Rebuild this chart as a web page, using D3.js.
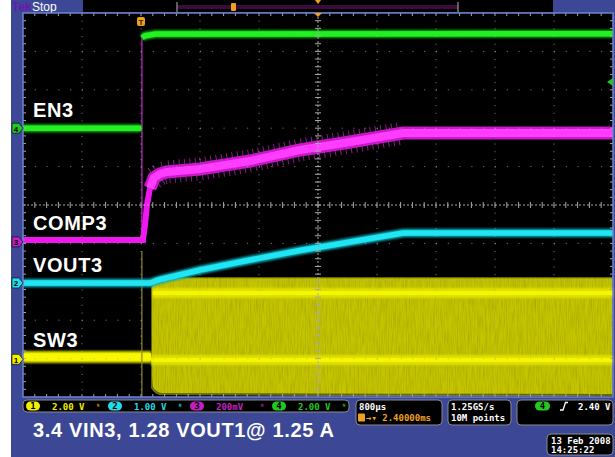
<!DOCTYPE html>
<html lang="en">
<head>
<meta charset="utf-8">
<title>EN3 / COMP3 / VOUT3 / SW3 start-up</title>
<script src="https://d3js.org/d3.v7.min.js"></script>
<style>
  body { margin:0; background:#fff; }
  svg { display:block; }
  .lbl { font-family:"Liberation Sans", Arial, sans-serif; font-weight:bold; fill:#fff; }
  .ro { font-family:"DejaVu Sans Mono", monospace; font-weight:bold; font-size:9px; }
</style>
</head>
<body>
<div id="scope"></div>
<script>
// time in ms from trigger, level in screen divisions from centre
var timeRange = [-1.6, 6.4];
var divRange = [-5, 5];

var en3Low = [[-1.6,2.0],[0.005,2.0]];
var en3High = [[0.015,4.36],[0.06,4.41],[0.2,4.45],[6.4,4.46]];
var comp3 = [[-1.6,-0.911],[0.027,-0.911],[0.054,-0.521],[0.081,0.0],[0.122,0.443],[0.176,0.703],
             [0.258,0.807],[0.353,0.859],[0.8,0.938],[1.478,1.146],[2.156,1.432],[2.834,1.641],
             [3.553,1.875],[6.4,1.875]];
var vout3 = [[-1.6,-2.031],[0.122,-2.031],[0.258,-1.94],[0.8,-1.693],[1.478,-1.432],[2.156,-1.185],
             [2.834,-0.964],[3.553,-0.729],[6.4,-0.729]];
var sw3Idle = [[-1.6,-3.958],[0.136,-3.958]];
var sw3Time = [0.136, 0.15, 0.19, 0.27, 6.4];
var sw3Top = [-2.135, -1.979, -1.927, -1.88, -1.88];
var sw3Bottom = [-4.427, -4.74, -4.844, -4.922, -4.948];
var sw3Bands = [[0.16,-2.29],[0.136,-4.036]];
var edgeGlitch = [[[0.012,-0.911],[0.012,4.4]], [[0.012,-5],[0.012,-1.2]]];

var channels = ["1","2","3","4"];
var chColors = ["#f0f000","#22dcea","#c020c0","#22c822"];
var chScales = ["2.00 V","1.00 V","200mV","2.00 V"];
var chGround = [-4.02,-2.03,-0.96,2.0];
var traceNames = ["SW3","VOUT3","COMP3","EN3"];
var nameLevels = [-3.7,-1.74,-0.65,2.3];
var trigLevel = 2.0 + 2.40/2.00;

var W = 590, H = 384, padLeft = 23, padTop = 13;

var svg = d3.select("#scope").append("svg").attr("width",615).attr("height",457);
var defs = svg.append("defs");
var grain = defs.append("filter").attr("id","grain").attr("x",0).attr("y",0).attr("width",1).attr("height",1);
grain.append("feTurbulence").attr("type","fractalNoise").attr("baseFrequency","1.1 0.06").attr("numOctaves",2).attr("seed",4).attr("result","n");
grain.append("feColorMatrix").attr("in","n").attr("type","matrix")
  .attr("values","0.5 0 0 0 0.68  0.5 0 0 0 0.68  0.5 0 0 0 0.68  0 0 0 0 1").attr("result","g");
grain.append("feBlend").attr("in","SourceGraphic").attr("in2","g").attr("mode","multiply").attr("result","m");
grain.append("feComposite").attr("in","m").attr("in2","SourceGraphic").attr("operator","in");
defs.append("filter").attr("id","soft").attr("filterUnits","userSpaceOnUse")
  .attr("x",-50).attr("y",-50).attr("width",700).attr("height",560)
  .append("feGaussianBlur").attr("stdDeviation",1.3);

svg.append("rect").attr("x",11).attr("y",0).attr("width",604).attr("height",457).attr("fill","#3c4896");
svg.append("rect").attr("x",83).attr("y",0).attr("width",470).attr("height",12).attr("fill","#000");

// record view
svg.append("rect").attr("x",177).attr("y",5).attr("width",281).attr("height",4).attr("fill","#3a0c3e");
[177,458].forEach(function(bx){
  svg.append("line").attr("x1",bx).attr("x2",bx).attr("y1",2).attr("y2",12).attr("stroke","#9a9a9a").attr("stroke-width",1.2);
});
svg.append("rect").attr("x",231).attr("y",3).attr("width",5).attr("height",8).attr("rx",1).attr("fill","#f0a020");
svg.append("path").attr("d","M315,0 L321,0 L318,4 Z").attr("fill","#f0a020");
svg.append("text").attr("x",12).attr("y",11).attr("class","lbl").style("font-size","12px").style("fill","#6a18b0").text("Tek");
svg.append("text").attr("x",32).attr("y",11).attr("class","lbl").style("font-size","12px").style("font-weight","normal").text("Stop");

var g = svg.append("g").attr("transform","translate(" + padLeft + "," + padTop + ")");
g.append("rect").attr("width",W).attr("height",H).attr("fill","#000");

var x = d3.scaleLinear().domain(timeRange).range([0, W]);
var y = d3.scaleLinear().domain(divRange).range([H, 0]);
var gx = d3.scaleLinear().domain([0,10]).range([0, W]);
var gy = d3.scaleLinear().domain([0,10]).range([0, H]);
var line = d3.line().x(function(d){ return x(d[0]); }).y(function(d){ return y(d[1]); });

function trace(data, glow, core, wGlow, wCore){
  g.append("path").datum(data).attr("d",line).attr("stroke",glow).attr("stroke-width",wGlow).attr("fill","none").attr("filter","url(#soft)");
  g.append("path").datum(data).attr("d",line).attr("stroke",core).attr("stroke-width",wCore).attr("fill","none");
}

// SW3 switching envelope
var env = sw3Time.map(function(t,i){ return [t, sw3Top[i], sw3Bottom[i]]; });
var area = d3.area().x(function(d){ return x(d[0]); }).y0(function(d){ return y(d[2]); }).y1(function(d){ return y(d[1]); })
  .curve(d3.curveMonotoneX);
g.append("path").datum(env).attr("d",area).attr("fill","#c4c400").attr("stroke","#6a6a00").attr("stroke-width",2).attr("filter","url(#grain)");
sw3Bands.forEach(function(b){
  trace([[b[0],b[1]],[timeRange[1],b[1]]], "#e0e000", "#f6f600", 10, 4);
});
trace(sw3Idle, "#d8d800", "#f8f800", 12, 7.5);

g.append("path").datum(edgeGlitch[1]).attr("d",line).attr("stroke","#8c8c20").attr("stroke-width",1.2).attr("fill","none");
g.append("path").datum(edgeGlitch[0]).attr("d",line).attr("stroke","#a020a8").attr("stroke-width",1.5).attr("fill","none");

// EN3
trace(en3Low, "#10b010", "#22f022", 8, 5.5);
trace(en3High, "#10b010", "#22f022", 8, 5.5);

// COMP3
var compBand = comp3.filter(function(d){ return d[0] >= 0.12; });
var compRamp = comp3.filter(function(d){ return d[0] >= 0.17 && d[0] <= 3.6; });
g.append("path").datum(comp3).attr("d",line).attr("stroke","#f018f0").attr("stroke-width",6).attr("fill","none");
g.append("path").datum(compRamp).attr("d",line).attr("stroke","#d020d0").attr("stroke-width",23)
  .attr("stroke-dasharray","1 4.4").attr("fill","none").attr("opacity",0.7);
g.append("path").datum(compBand).attr("d",line).attr("stroke","#c818c8").attr("stroke-width",13).attr("fill","none");
g.append("path").datum(compBand).attr("d",line).attr("stroke","#ff3cff").attr("stroke-width",8).attr("fill","none");

// VOUT3
trace(vout3, "#10a8b8", "#1ee6f2", 8.5, 5.5);

// graticule
var grid = g.append("g").attr("stroke","#a8a8a8").attr("fill","none");
d3.range(1,10).forEach(function(i){
  if (i === 5) return;
  grid.append("line").attr("x1",gx(i)).attr("x2",gx(i)).attr("y1",0).attr("y2",H).attr("stroke-dasharray","1 " + (gy(0.2)-1)).attr("opacity",0.8);
  grid.append("line").attr("y1",gy(i)).attr("y2",gy(i)).attr("x1",0).attr("x2",W).attr("stroke-dasharray","1 " + (gx(0.2)-1)).attr("opacity",0.8);
});
grid.append("line").attr("x1",0).attr("x2",W).attr("y1",H/2).attr("y2",H/2).attr("stroke-dasharray","2 2");
grid.append("line").attr("y1",0).attr("y2",H).attr("x1",W/2).attr("x2",W/2).attr("stroke-dasharray","2 2");
d3.range(1,50).forEach(function(k){
  var xx = gx(k/5);
  grid.append("line").attr("x1",xx).attr("x2",xx).attr("y1",H/2-3).attr("y2",H/2+3);
  grid.append("line").attr("x1",xx).attr("x2",xx).attr("y1",0).attr("y2",3);
  grid.append("line").attr("x1",xx).attr("x2",xx).attr("y1",H-3).attr("y2",H);
  var yy = gy(k/5);
  grid.append("line").attr("y1",yy).attr("y2",yy).attr("x1",W/2-3).attr("x2",W/2+3);
  grid.append("line").attr("y1",yy).attr("y2",yy).attr("x1",0).attr("x2",3);
  grid.append("line").attr("y1",yy).attr("y2",yy).attr("x1",W-3).attr("x2",W);
});
g.append("rect").attr("width",W).attr("height",H).attr("fill","none").attr("stroke","#6c84d0").attr("stroke-width",1.5);

// trigger markers
g.append("rect").attr("x",x(0)-4).attr("y",4).attr("width",8).attr("height",9).attr("rx",2).attr("fill","#f0a020");
g.append("text").attr("x",x(0)).attr("y",11.5).attr("text-anchor","middle").attr("class","lbl").style("font-size","8px").style("fill","#402000").text("T");
g.append("path").attr("d","M" + (W/2-4) + ",0 L" + (W/2+4) + ",0 L" + (W/2) + ",4 Z").attr("fill","#f0a020");
g.append("path").attr("d","M" + W + "," + (y(trigLevel)-4) + " L" + (W-6) + "," + y(trigLevel) + " L" + W + "," + (y(trigLevel)+4) + " Z").attr("fill","#22c822");

// channel ground markers and names
channels.forEach(function(c,i){
  var yy = padTop + y(chGround[i]);
  svg.append("path").attr("d","M12," + (yy-5) + " L19," + (yy-5) + " L23," + yy + " L19," + (yy+5) + " L12," + (yy+5) + " Z")
    .attr("fill",chColors[i]).attr("stroke","#000").attr("stroke-width",0.6);
  svg.append("text").attr("x",16).attr("y",yy+3.5).attr("text-anchor","middle").attr("class","lbl")
    .style("font-size","8px").style("fill","#000").text(c);
  svg.append("text").attr("x",33).attr("y",padTop + y(nameLevels[i])).attr("class","lbl")
    .style("font-size","20px").style("letter-spacing","0.6px").text(traceNames[i]);
});

// readouts
function box(bx,by,bw,bh){
  svg.append("rect").attr("x",bx).attr("y",by).attr("width",bw).attr("height",bh).attr("rx",4)
    .attr("fill","#000").attr("stroke","#8a8a8a").attr("stroke-width",1);
}
box(23,400,326,12);
channels.forEach(function(c,i){
  var cx = 33 + i*82;
  svg.append("rect").attr("x",cx-7).attr("y",401.5).attr("width",14).attr("height",9).attr("rx",4.5).attr("fill",chColors[i]);
  svg.append("text").attr("x",cx).attr("y",409.3).attr("text-anchor","middle").attr("class","ro").style("fill","#000").text(c);
  svg.append("text").attr("x",cx+19).attr("y",409.5).attr("class","ro").style("fill",chColors[i]).text(chScales[i]);
  svg.append("text").attr("x",cx+63).attr("y",409).attr("class","ro").style("font-size","7px").style("fill",i===0?"#d0a000":chColors[i]).text("ᴺ");
});
box(356,400,86,25);
svg.append("text").attr("x",359).attr("y",409.5).attr("class","ro").style("fill","#fff").text("800µs");
svg.append("rect").attr("x",358).attr("y",413.5).attr("width",7).attr("height",8).attr("rx",1).attr("fill","#f0a020");
svg.append("text").attr("x",366).attr("y",421).attr("class","ro").style("fill","#f0a020").text("→▾ 2.40000ms");
box(448,400,63,25);
svg.append("text").attr("x",451).attr("y",409.5).attr("class","ro").style("fill","#fff").text("1.25GS/s");
svg.append("text").attr("x",451).attr("y",421).attr("class","ro").style("fill","#fff").text("10M points");
box(517,400,96,25);
svg.append("rect").attr("x",535).attr("y",401.5).attr("width",15).attr("height",9).attr("rx",4.5).attr("fill","#22c822");
svg.append("text").attr("x",542.5).attr("y",409.3).attr("text-anchor","middle").attr("class","ro").style("fill","#000").text("4");
svg.append("path").attr("d","M560,410 L563,410 L565.5,402.5 L568,402.5").attr("stroke","#fff").attr("stroke-width",1.3).attr("fill","none");
svg.append("text").attr("x",578).attr("y",409.5).attr("class","ro").style("fill","#fff").text("2.40 V");
box(547,434,66,21);
svg.append("text").attr("x",551).attr("y",443.5).attr("class","ro").style("fill","#fff").text("13 Feb  2008");
svg.append("text").attr("x",551).attr("y",452.5).attr("class","ro").style("fill","#fff").text("14:25:22");

svg.append("text").attr("x",33).attr("y",437).attr("class","lbl").style("font-size","20px").style("letter-spacing","0.65px")
  .text("3.4 VIN3, 1.28 VOUT1@ 1.25 A");
</script>
</body>
</html>
